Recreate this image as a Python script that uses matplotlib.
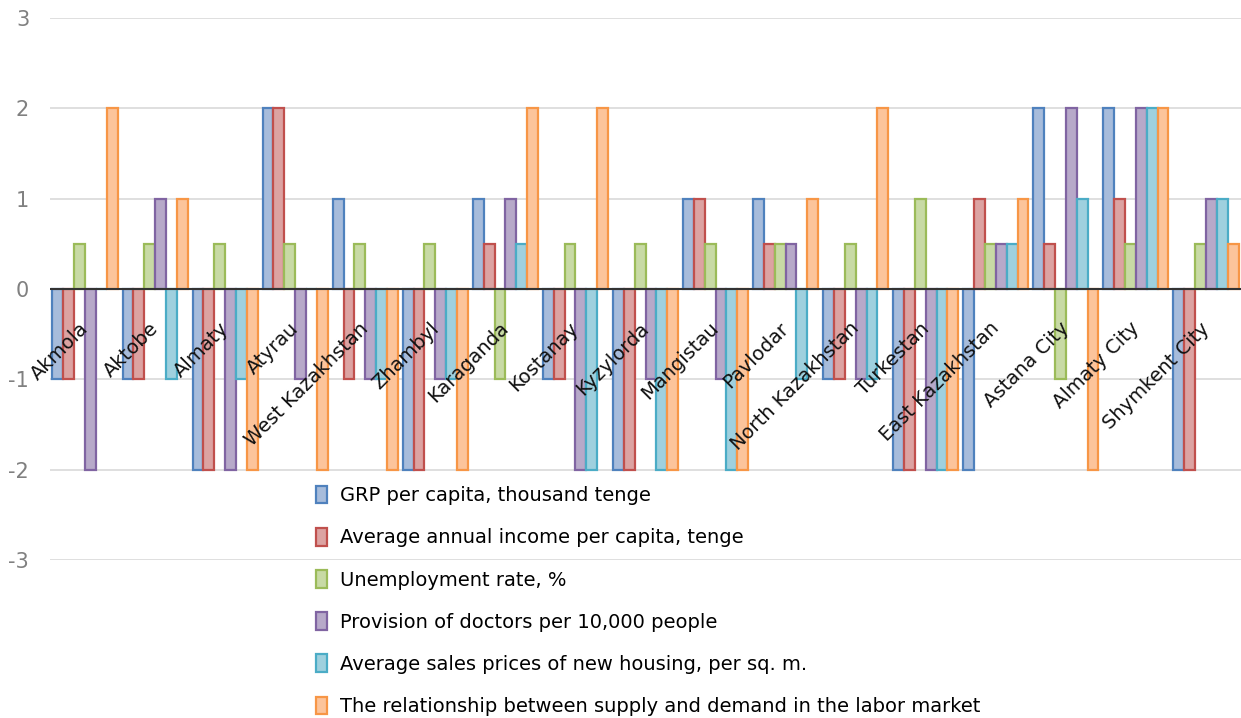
import numpy as np
import matplotlib.pyplot as plt

regions = ["Akmola", "Aktobe", "Almaty", "Atyrau", "West Kazakhstan", "Zhambyl",
           "Karaganda", "Kostanay", "Kyzylorda", "Mangistau", "Pavlodar",
           "North Kazakhstan", "Turkestan", "East Kazakhstan", "Astana City",
           "Almaty City", "Shymkent City"]

grp = [-1, -1, -2, 2, 1, -2, 1, -1, -2, 1, 1, -1, -2, -2, 2, 2, -2]
income = [-1, -1, -2, 2, -1, -2, 0.5, -1, -2, 1, 0.5, -1, -2, 1, 0.5, 1, -2]
unemployment = [0.5, 0.5, 0.5, 0.5, 0.5, 0.5, -1, 0.5, 0.5, 0.5, 0.5, 0.5, 1, 0.5, -1, 0.5, 0.5]
doctors = [-2, 1, -2, -1, -1, -1, 1, -2, -1, -1, 0.5, -1, -2, 0.5, 2, 2, 1]
housing = [0, -1, -1, 0, -1, -1, 0.5, -2, -2, -2, -1, -1, -2, 0.5, 1, 2, 1]
labor = [2, 1, -2, -2, -2, -2, 2, 2, -2, -2, 1, 2, -2, 1, -2, 2, 0.5]

series_names = ["GRP per capita, thousand tenge",
                "Average annual income per capita, tenge",
                "Unemployment rate, %",
                "Provision of doctors per 10,000 people",
                "Average sales prices of new housing, per sq. m.",
                "The relationship between supply and demand in the labor market"]
series_values = [grp, income, unemployment, doctors, housing, labor]

face_colors = ["#a7bcdb", "#dca3a2", "#c8daa5", "#b7a9c9", "#9fd0de", "#fcc49b"]
edge_colors = ["#4f81bd", "#c0504d", "#9bbb59", "#8064a2", "#4bacc6", "#f79646"]

plt.rcParams['axes.unicode_minus'] = False

fig = plt.figure(figsize=(12.41, 7.18), dpi=100)
ax = fig.add_axes([50 / 1241, 158 / 718, 1 - 50 / 1241, (560 - 18) / 718])

x = np.arange(len(regions))
width = 0.155
for i, (name, vals) in enumerate(zip(series_names, series_values)):
    offset = (i - 2.5) * width
    ax.bar(x + offset, vals, width, color=face_colors[i], edgecolor=edge_colors[i],
           linewidth=1.6, label=name, zorder=3)

ax.set_xlim(-0.5, len(regions) - 0.5)
ax.set_ylim(-3, 3)
ax.set_yticks([-3, -2, -1, 0, 1, 2, 3])
ax.yaxis.grid(True, color="#d9d9d9", linewidth=1.2, zorder=0)
ax.axhline(0, color="#333333", linewidth=1.5, zorder=4)
for s in ax.spines.values():
    s.set_visible(False)
ax.tick_params(axis="y", length=0, pad=15, labelsize=15, labelcolor="#808080")
ax.set_xticks([])

# category labels hang under the zero line, tilted
for i, name in enumerate(regions):
    ax.text(i + 0.1, -0.33, name, rotation=45, ha="right", va="top",
            fontsize=14, color="#111111", zorder=5)

fig.legend(loc="upper left", bbox_to_anchor=(316 / 1241, 1 - 486 / 718),
           frameon=False, fontsize=14, borderpad=0, borderaxespad=0,
           labelspacing=1.17, handlelength=0.55, handleheight=1.0,
           handletextpad=0.7)

plt.savefig("out.png", dpi=100)
